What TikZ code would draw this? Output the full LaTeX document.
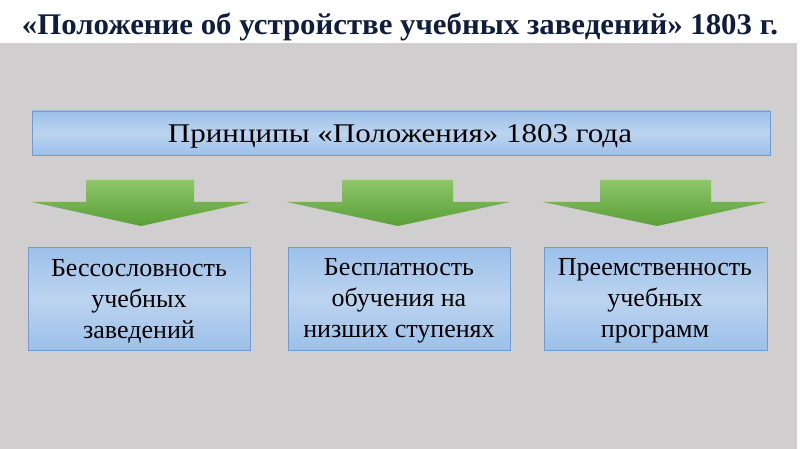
\documentclass[tikz,border=0pt]{standalone}
\usepackage{fontspec}
\setmainfont{Liberation Serif}
\usetikzlibrary{shadings}
\definecolor{bggray}{HTML}{D0CECE}
\definecolor{titlenavy}{HTML}{0F1E3C}
\definecolor{boxedge}{HTML}{6F9BD2}
\definecolor{boxtop}{HTML}{9CC0EA}
\definecolor{boxmid}{HTML}{BCD4EF}
\definecolor{greentop}{HTML}{8DC76A}
\definecolor{greenbot}{HTML}{5A9E36}
\tikzset{
  bluebox/.style={draw=boxedge, line width=0.8pt, top color=boxtop, bottom color=boxtop, middle color=boxmid},
  greenarrow/.style={top color=greentop, bottom color=greenbot, draw=none},
  boxtext/.style={font=\fontsize{26}{31}\selectfont, align=center, text=black},
}
\begin{document}
\begin{tikzpicture}[x=1pt,y=-1pt]
\useasboundingbox (0,0) rectangle (800,449);
\fill[white] (0,0) rectangle (800,449);
\fill[bggray] (0,43) rectangle (797,449);
\node[font=\bfseries, text=titlenavy] (title) at (400,27) {\resizebox{756pt}{\height}{\fontsize{30}{32}\selectfont «Положение об устройстве учебных заведений» 1803 г.}};
% top box
\path[bluebox] (32,111) rectangle (770,155);
\node (top) at (400,136) {\resizebox{464pt}{\height}{\fontsize{27}{30}\selectfont Принципы «Положения» 1803 года}};
% arrows
\foreach \l/\sl/\sr/\r/\t [count=\i] in {32/86/194/250/141, 287/342/453/510/398, 543/600/711/767/657}{
  \path[greenarrow] (\sl,180) -- (\sr,180) -- (\sr,202) -- (\r,202) -- (\t,226) -- (\l,202) -- (\sl,202) -- cycle;
}
% bottom boxes
\path[bluebox] (28,247) rectangle (250,350);
\path[bluebox] (288,247) rectangle (510,350);
\path[bluebox] (544,247) rectangle (767,350);
\node[boxtext] (b1) at (139,301) {Бессословность\\учебных\\заведений};
\node[boxtext] (b2) at (399,301) {Бесплатность\\обучения на\\низших ступенях};
\node[boxtext] (b3) at (655,301) {Преемственность\\учебных\\программ};
\end{tikzpicture}
\end{document}
